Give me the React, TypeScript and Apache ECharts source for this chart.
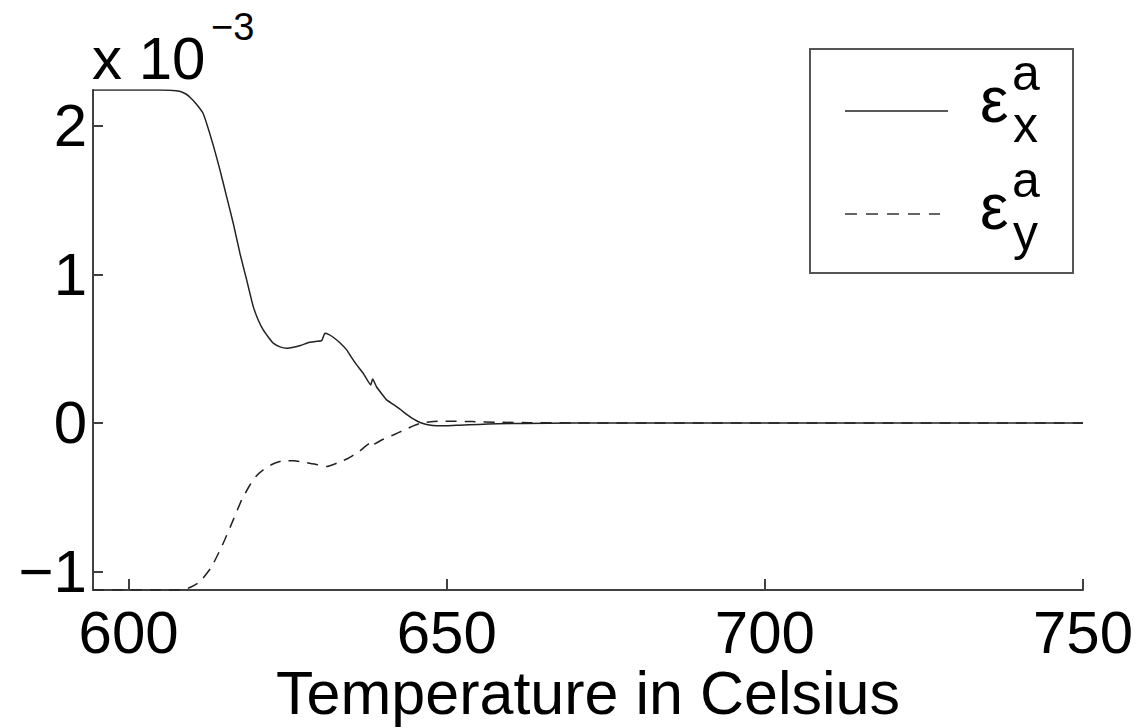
import React, { useEffect, useRef } from 'react';
import * as echarts from 'echarts';

const xTicks = [600, 650, 700, 750];
const yTicks = [-1, 0, 1, 2];
const xTitle = 'Temperature in Celsius';

const tempA = [594.4, 600, 605, 606.5, 608, 609, 609.6, 610.6, 611.7, 613.05, 614.35, 615.4, 616.44, 617.49, 618.55, 619.59, 620.4, 621.16, 622, 622.73, 623.8, 624.84, 625.9, 627, 628, 628.5, 629.4, 630.34, 630.86, 631.5, 632.16, 633.2, 634.27, 635.05, 635.84, 636.83, 638.04, 638.35, 638.98, 639.8, 640.55, 641.6, 642.6, 643.7, 644.8, 645.8, 647, 648.5, 650, 652, 655, 658, 662, 670, 690, 720, 750];
const epsXa = [2.242, 2.242, 2.242, 2.241, 2.234, 2.215, 2.195, 2.15, 2.085, 1.906, 1.704, 1.524, 1.345, 1.143, 0.963, 0.783, 0.69, 0.626, 0.575, 0.537, 0.512, 0.503, 0.51, 0.522, 0.537, 0.543, 0.549, 0.554, 0.604, 0.595, 0.577, 0.54, 0.492, 0.44, 0.391, 0.337, 0.256, 0.296, 0.242, 0.195, 0.155, 0.125, 0.095, 0.058, 0.025, 0.003, -0.012, -0.019, -0.019, -0.015, -0.01, -0.006, -0.003, 0, 0, 0, 0];

const tempB = [594.4, 600, 605, 608.6, 609.8, 611.21, 613.05, 614.87, 616.44, 617.76, 619.07, 620, 621.16, 622.5, 624.3, 626, 628, 629.5, 631.12, 632.8, 634.52, 636.3, 637.93, 638.1, 638.5, 640, 641.6, 643.2, 644.73, 646.05, 647.5, 649, 651, 654, 658, 663, 670, 700, 750];
const epsYa = [-1.125, -1.125, -1.125, -1.124, -1.105, -1.069, -0.968, -0.81, -0.653, -0.519, -0.418, -0.36, -0.316, -0.28, -0.254, -0.255, -0.267, -0.28, -0.294, -0.27, -0.238, -0.19, -0.137, -0.155, -0.145, -0.11, -0.081, -0.05, -0.02, 0.0, 0.008, 0.012, 0.012, 0.009, 0.005, 0.002, 0, 0, 0];

const X_MIN = 594.4;
const X_MAX = 750;
const Y_MIN = -1.125;
const Y_MAX = 2.242;

const FONT = '"Liberation Sans", Arial, Helvetica, sans-serif';
const AXIS_COLOR = '#404040';

export default function App() {
  const ref = useRef<HTMLDivElement>(null);
  useEffect(() => {
    if (!ref.current) return;
    const chart = echarts.init(ref.current, null, { renderer: 'svg' });
    const txt = (text: string, x: number, y: number, size: number, align = 'left') => ({
      type: 'text',
      x,
      y,
      z: 101,
      style: {
        text,
        fill: '#000',
        font: `${size}px ${FONT}`,
        textAlign: align,
        textVerticalAlign: 'middle',
        align,
        verticalAlign: 'middle',
      },
    });
    chart.setOption({
      animation: false,
      backgroundColor: '#fff',
      grid: {
        left: 93,
        right: 57,
        top: 90,
        bottom: 138,
        containLabel: false,
        outerBoundsMode: 'none',
      },
      xAxis: {
        type: 'value',
        min: X_MIN,
        max: X_MAX,
        axisLine: { show: true, onZero: false, lineStyle: { color: AXIS_COLOR, width: 2 } },
        axisTick: {
          show: true,
          inside: true,
          length: 11,
          customValues: xTicks,
          lineStyle: { color: AXIS_COLOR, width: 2 },
        },
        axisLabel: { customValues: xTicks, margin: 12, fontSize: 60, color: '#000', fontFamily: FONT },
        splitLine: { show: false },
      },
      yAxis: {
        type: 'value',
        min: Y_MIN,
        max: Y_MAX,
        axisLine: { show: true, onZero: false, lineStyle: { color: AXIS_COLOR, width: 2 } },
        axisTick: {
          show: true,
          inside: true,
          length: 10,
          customValues: yTicks,
          lineStyle: { color: AXIS_COLOR, width: 2 },
        },
        axisLabel: {
          customValues: yTicks,
          margin: 6,
          fontSize: 60,
          color: '#000',
          fontFamily: FONT,
          formatter: (v: number) => (v < 0 ? '\u2212' + Math.abs(v) : String(v)),
        },
        splitLine: { show: false },
      },
      series: [
        {
          type: 'line',
          name: 'eps_x',
          data: tempA.map((t, i) => [t, epsXa[i]]),
          showSymbol: false,
          smooth: 0.15,
          lineStyle: { color: '#222', width: 1.5, type: 'solid' },
        },
        {
          type: 'line',
          name: 'eps_y',
          data: tempB.map((t, i) => [t, epsYa[i]]),
          showSymbol: false,
          smooth: 0.15,
          lineStyle: { color: '#222', width: 1.5, type: [11, 8] },
        },
      ],
      graphic: [
        txt(xTitle, 588, 693, 61, 'center'),
        txt('x 10', 92, 58.5, 60),
        txt('\u22123', 211, 26.5, 38),
        {
          type: 'rect',
          z: 100,
          shape: { x: 810, y: 49, width: 263, height: 224 },
          style: { fill: '#fff', stroke: '#555', lineWidth: 2 },
        },
        {
          type: 'line',
          z: 101,
          shape: { x1: 845, y1: 111, x2: 948, y2: 111 },
          style: { stroke: '#222', lineWidth: 1.5 },
        },
        {
          type: 'line',
          z: 101,
          shape: { x1: 845, y1: 214, x2: 940, y2: 214 },
          style: { stroke: '#333', lineWidth: 1.5, lineDash: [12, 9] },
        },
        txt('\u03b5', 980, 99.5, 64),
        txt('a', 1012, 72.5, 50),
        txt('x', 1013, 124.5, 50),
        txt('\u03b5', 980, 207, 64),
        txt('a', 1012, 179.5, 50),
        txt('y', 1013, 232.5, 50),
      ],
    });
    return () => chart.dispose();
  }, []);
  return (
    <div
      ref={ref}
      style={{ position: 'fixed', left: 0, top: 0, width: 1140, height: 728, background: '#fff' }}
    />
  );
}
